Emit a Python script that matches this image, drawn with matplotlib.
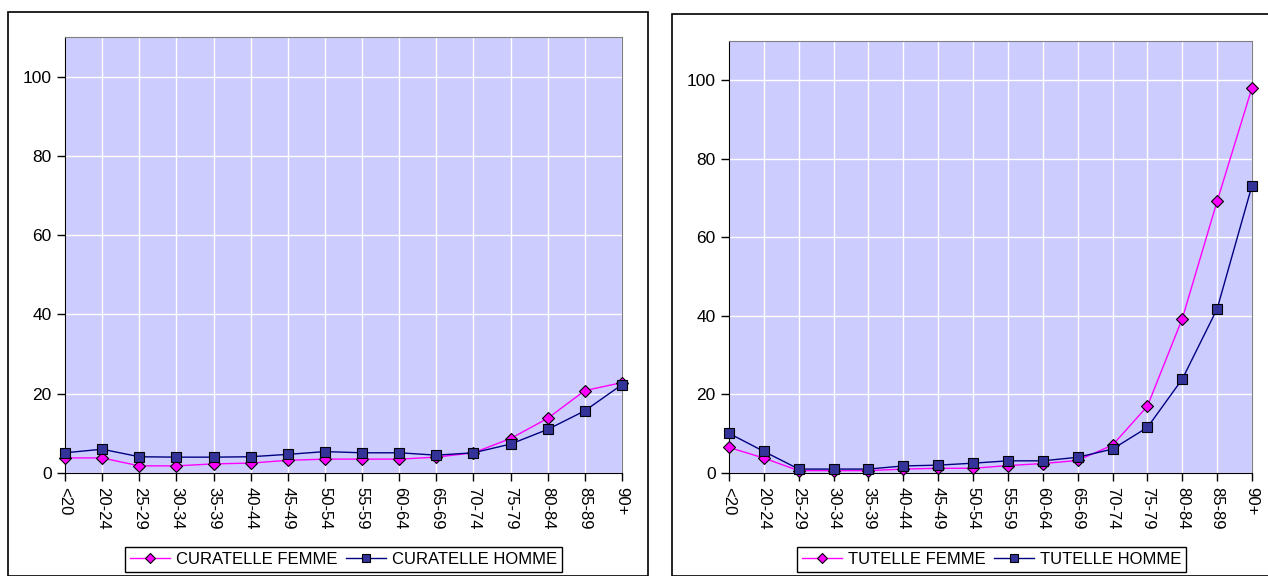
import matplotlib.pyplot as plt
from matplotlib.patches import Rectangle

plt.rcParams['font.family'] = ['Liberation Sans', 'DejaVu Sans']

ages = ["<20", "20-24", "25-29", "30-34", "35-39", "40-44", "45-49", "50-54",
        "55-59", "60-64", "65-69", "70-74", "75-79", "80-84", "85-89", "90+"]

curatelle_femme = [3.8, 3.8, 1.8, 1.8, 2.3, 2.5, 3.2, 3.5, 3.5, 3.5, 4.0, 5.1, 8.7, 13.8, 20.8, 22.8]
curatelle_homme = [5.1, 6.0, 4.1, 4.0, 4.0, 4.1, 4.7, 5.4, 5.1, 5.1, 4.5, 5.1, 7.3, 11.0, 15.7, 22.3]
tutelle_femme = [6.5, 3.8, 0.6, 0.6, 0.6, 1.0, 1.2, 1.2, 1.9, 2.4, 3.2, 7.1, 17.0, 39.3, 69.2, 98.1]
tutelle_homme = [10.1, 5.5, 1.0, 1.0, 1.0, 1.8, 2.0, 2.5, 3.1, 3.1, 4.0, 6.1, 11.6, 23.9, 41.8, 73.2]

W, H = 1268, 576
fig = plt.figure(figsize=(W / 100, H / 100), dpi=100)

# outer chart frames
fig.patches.append(Rectangle((8 / W, 0), 640 / W, (H - 12) / H, transform=fig.transFigure,
                             fill=False, edgecolor='black', lw=1.2))
fig.patches.append(Rectangle((672 / W, 0), 600 / W, (H - 14) / H, transform=fig.transFigure,
                             fill=False, edgecolor='black', lw=1.2))


def panel(rect, femme, homme, lab_f, lab_h, leg_x):
    ax = fig.add_axes(rect)
    ax.set_facecolor('#CCCCFF')
    x = range(len(ages))
    ax.plot(x, femme, color='#FF00FF', lw=1, marker='D', ms=6, mfc='#FF00FF',
            mec='black', mew=0.8, label=lab_f, clip_on=False, zorder=3)
    ax.plot(x, homme, color='#000080', lw=1, marker='s', ms=7, mfc='#333399',
            mec='black', mew=0.8, label=lab_h, clip_on=False, zorder=3)
    ax.set_xlim(0, len(ages) - 1)
    ax.set_ylim(0, 110)
    ax.set_yticks([0, 20, 40, 60, 80, 100])
    ax.set_xticks(list(x))
    ax.set_xticklabels(ages, rotation=-90, fontsize=12)
    ax.tick_params(axis='y', labelsize=12.5, length=6, width=1, direction='out')
    ax.tick_params(axis='x', length=6, width=1, direction='out', pad=4)
    ax.grid(True, color='white', lw=1)
    ax.set_axisbelow(True)
    for s in ['top', 'right']:
        ax.spines[s].set_color('#808080')
    for s in ['left', 'bottom']:
        ax.spines[s].set_color('black')
    leg = ax.legend(loc='upper left', bbox_to_anchor=(leg_x / W, (H - 547) / H),
                    bbox_transform=fig.transFigure,
                    ncol=2, fontsize=12, frameon=True, fancybox=False,
                    edgecolor='black', framealpha=1, borderaxespad=0,
                    handlelength=2.4, columnspacing=0.5, handletextpad=0.35,
                    borderpad=0.3, markerscale=0.8)
    leg.get_frame().set_linewidth(1)
    return ax


panel([65 / W, 103 / H, 557 / W, 436 / H], curatelle_femme, curatelle_homme,
      "CURATELLE FEMME", "CURATELLE HOMME", 125)
panel([729 / W, 103 / H, 523 / W, 432 / H], tutelle_femme, tutelle_homme,
      "TUTELLE FEMME", "TUTELLE HOMME", 797)

fig.savefig('out.png', dpi=100)
